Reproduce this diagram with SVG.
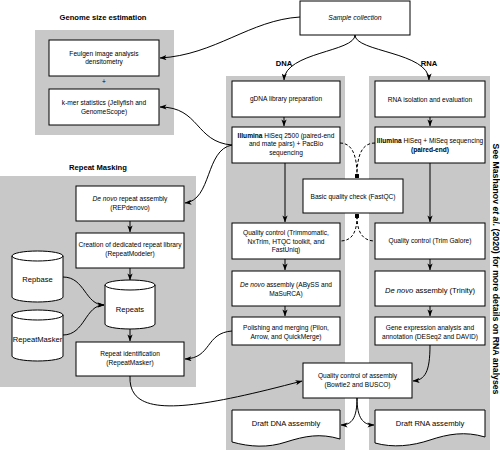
<svg xmlns="http://www.w3.org/2000/svg" width="500" height="450" viewBox="0 0 500 450">
<defs>
<style>
.bg{fill:#c8c8c8;stroke:none}
.box{fill:#fff;stroke:#000;stroke-width:1}
.arc{fill:none;stroke:#000;stroke-width:1}
.t{font-family:"Liberation Sans",Arial,sans-serif;font-size:6.6px;fill:#000;text-anchor:middle}
.tl{font-family:"Liberation Sans",Arial,sans-serif;font-size:7.6px;fill:#000;text-anchor:middle}
.h{font-family:"Liberation Sans",Arial,sans-serif;font-size:7.6px;font-weight:bold;fill:#000;text-anchor:middle}
.c{fill:none;stroke:#000;stroke-width:1;marker-end:url(#arr)}
.d{fill:none;stroke:#000;stroke-width:1;stroke-dasharray:3,2}
.b{font-weight:bold}
.i{font-style:italic}
</style>
<marker id="arr" viewBox="0 0 8 6" refX="7.5" refY="3" markerWidth="7" markerHeight="5.2" orient="auto" markerUnits="userSpaceOnUse"><path d="M0,0 L8,3 L0,6 L2,3 Z" fill="#000"/></marker>
<marker id="dot" viewBox="0 0 6 6" refX="3" refY="3" markerWidth="4.5" markerHeight="4.5" orient="auto" markerUnits="userSpaceOnUse"><circle cx="3" cy="3" r="3" fill="#000"/></marker>
</defs>
<rect width="500" height="450" fill="#fff"/>

<g id="backgrounds">
<rect class="bg" x="35" y="30" width="139" height="105"/>
<rect class="bg" x="0" y="176" width="196" height="211"/>
<rect class="bg" x="226" y="76" width="119" height="374"/>
<rect class="bg" x="369" y="76" width="121" height="374"/>
</g>

<g id="titles">
<text class="h" x="103" y="19.5">Genome size estimation</text>
<text class="h" x="98" y="169.5">Repeat Masking</text>
<text class="h" x="284" y="66">DNA</text>
<text class="h" x="429" y="66">RNA</text>
<text class="h" x="0" y="0" style="font-size:8.7px" transform="translate(492.5,269) rotate(90)">See Mashanov <tspan class="i">et al.</tspan> (2020) for more details on RNA analyses</text>
</g>

<g id="sample">
<rect class="box" x="300" y="1" width="110" height="34"/>
<text class="t i" x="355" y="20" style="font-size:6.8px">Sample collection</text>
</g>

<g id="feulgen">
<rect class="box" x="49" y="40" width="110" height="36"/>
<text class="t" x="104" y="55.5">Feulgen image analysis</text>
<text class="t" x="104" y="64">densitometry</text>
</g>
<text class="t" x="104" y="84">+</text>
<g id="kmer">
<rect class="box" x="49" y="89" width="110" height="36"/>
<text class="t" x="104" y="105">k-mer statistics (Jellyfish and</text>
<text class="t" x="104" y="114">GenomeScope)</text>
</g>

<g id="gdna">
<rect class="box" x="232" y="81" width="108" height="36"/>
<text class="t" x="286" y="101">gDNA library preparation</text>
</g>
<g id="illumina-dna">
<rect class="box" x="232" y="127" width="108" height="36"/>
<text class="t" x="286" y="137.5"><tspan class="b">Illumina</tspan> HiSeq 2500  (paired-end</text>
<text class="t" x="286" y="146">and mate pairs) + PacBio</text>
<text class="t" x="286" y="154.5">sequencing</text>
</g>
<g id="qc-dna">
<rect class="box" x="232" y="223" width="108" height="36"/>
<text class="t" x="286" y="235">Quality control (Trimmomatic,</text>
<text class="t" x="286" y="243.5">NxTrim, HTQC toolkit, and</text>
<text class="t" x="286" y="252">FastUniq)</text>
</g>
<g id="denovo-dna">
<rect class="box" x="232" y="271" width="108" height="35"/>
<text class="t" x="286" y="287"><tspan class="i">De novo</tspan> assembly (ABySS and</text>
<text class="t" x="286" y="295.5">MaSuRCA)</text>
</g>
<g id="polishing">
<rect class="box" x="232" y="317" width="108" height="28"/>
<text class="t" x="286" y="330">Polishing and merging  (Pilon,</text>
<text class="t" x="286" y="339">Arrow, and QuickMerge)</text>
</g>

<g id="rna-iso">
<rect class="box" x="375" y="81" width="110" height="36"/>
<text class="t" x="430" y="101.5">RNA isolation and evaluation</text>
</g>
<g id="illumina-rna">
<rect class="box" x="375" y="127" width="110" height="36"/>
<text class="t" x="430" y="143"><tspan class="b">Illumina</tspan> HiSeq + MiSeq sequencing</text>
<text class="t b" x="430" y="151.5">(paired-end)</text>
</g>
<g id="qc-rna">
<rect class="box" x="375" y="223" width="110" height="36"/>
<text class="t" x="430" y="243">Quality control (Trim Galore)</text>
</g>
<g id="denovo-rna">
<rect class="box" x="375" y="271" width="110" height="35"/>
<text class="tl" x="430" y="293"><tspan class="i">De novo</tspan> assembly (Trinity)</text>
</g>
<g id="gene-expr">
<rect class="box" x="375" y="317" width="110" height="28"/>
<text class="t" x="430" y="330">Gene expression analysis and</text>
<text class="t" x="430" y="339">annotation (DESeq2 and DAVID)</text>
</g>

<g id="basic-qc">
<rect class="box" x="303" y="179" width="100" height="34"/>
<text class="t" x="353" y="198.5">Basic quality check (FastQC)</text>
</g>
<g id="qc-assembly">
<rect class="box" x="303" y="363" width="109" height="35"/>
<text class="t" x="357.5" y="378">Quality control of assembly</text>
<text class="t" x="357.5" y="386.5">(Bowtie2 and BUSCO)</text>
</g>
<g id="draft-dna">
<path class="box" d="M232,410 H340 V439 C320,433 305,436 286,442 C268,448 250,447 232,442 Z"/>
<text class="tl" x="286" y="425.5">Draft DNA assembly</text>
</g>
<g id="draft-rna">
<path class="box" d="M375,410 H485 V437 C465,431 448,434 430,440 C412,446 393,448 375,443 Z"/>
<text class="tl" x="430" y="425.5">Draft RNA assembly</text>
</g>

<g id="denovo-repeat">
<rect class="box" x="76" y="186" width="108" height="35"/>
<text class="t" x="130" y="200.5"><tspan class="i">De novo</tspan> repeat assembly</text>
<text class="t" x="130" y="209.5">(REPdenovo)</text>
</g>
<g id="creation">
<rect class="box" x="76" y="233" width="108" height="35"/>
<text class="t" x="130" y="246.5">Creation of dedicated repeat library</text>
<text class="t" x="130" y="255.5">(RepeatModeler)</text>
</g>
<g id="repeats">
<path class="box" d="M105,285 A25,5 0 0 1 155,285 V324 A25,5 0 0 1 105,324 Z"/>
<path class="arc" d="M105,285 A25,5 0 0 0 155,285"/>
<text class="tl" x="130" y="311.5">Repeats</text>
</g>
<g id="repbase">
<path class="box" d="M12,256 A25.5,5 0 0 1 63,256 V297 A25.5,5 0 0 1 12,297 Z"/>
<path class="arc" d="M12,256 A25.5,5 0 0 0 63,256"/>
<text class="tl" x="37.5" y="282">Repbase</text>
</g>
<g id="repeatmasker-db">
<path class="box" d="M12,315 A25.5,5 0 0 1 63,315 V356 A25.5,5 0 0 1 12,356 Z"/>
<path class="arc" d="M12,315 A25.5,5 0 0 0 63,315"/>
<text class="tl" x="37.5" y="342">RepeatMasker</text>
</g>
<g id="repeat-ident">
<rect class="box" x="76" y="342" width="108" height="34"/>
<text class="t" x="130" y="356">Repeat identification</text>
<text class="t" x="130" y="365">(RepeatMasker)</text>
</g>

<g id="connectors">
<path class="c" d="M300,17 C250,20 215,55 160,58"/>
<path class="c" d="M355,35 C355,52 285,52 284,80"/>
<path class="c" d="M355,35 C355,52 429,52 429,80"/>
<path class="c" d="M232,145 C195,142 200,107 160,107"/>
<path class="c" d="M232,145 C205,150 212,200 185,203"/>
<path class="c" d="M284,117 V126"/>
<path class="c" d="M285,163 V222"/>
<path class="c" d="M285,259 V270"/>
<path class="c" d="M285,306 V316"/>
<path class="c" d="M430,117 V126"/>
<path class="c" d="M430,163 V222"/>
<path class="c" d="M430,259 V270"/>
<path class="c" d="M430,306 V316"/>
<path class="c" d="M232,331 C205,333 212,358 185,359"/>
<path class="c" d="M130,376 C128,418 185,412 302,381"/>
<path class="c" d="M430,345 C430,372 425,380 413,381"/>
<path class="c" d="M357,398 C357,418 352,425 341,425"/>
<path class="c" d="M357,398 C357,418 363,425 374,425"/>
<path class="c" d="M130,221 V232"/>
<path class="c" d="M130,268 V280"/>
<path class="c" d="M130,329 V341"/>
<path class="c" d="M63,277 C85,277 85,305 104,305"/>
<path class="c" d="M63,335 C85,335 85,305 104,305"/>
<path class="d" marker-end="url(#dot)" d="M340,143 C352,143 357,155 357,176"/>
<path class="d" marker-end="url(#dot)" d="M375,143 C362,143 357,155 357,176"/>
<path class="d" marker-start="url(#dot)" d="M357,216 C357,234 351,241 340,241"/>
<path class="d" marker-start="url(#dot)" d="M357,216 C357,234 364,241 375,241"/>
</g>
</svg>
